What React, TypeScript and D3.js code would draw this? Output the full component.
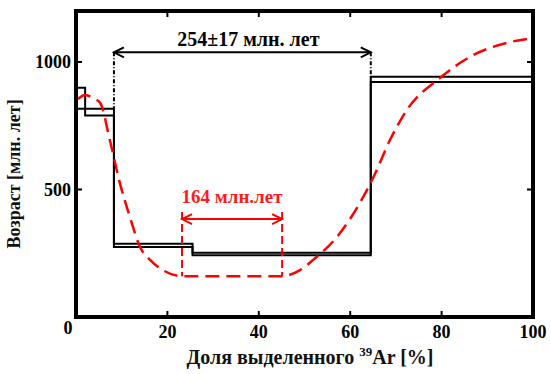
import * as d3 from 'd3';

// Ar-Ar step spectrum: fraction edges (%), upper / lower age bound per step (Ma)
const stepEdges = [0, 2, 8.3, 25.5, 64.5, 100];
const ageUpper = [899, 817, 287, 252, 942];
const ageLower = [817, 790, 275, 242, 922];

// model curve (red dashed)
const modelFraction = [0.4, 2.0, 3.7, 5.3, 7.4, 9.6, 11.8, 14.0, 16.2, 19.0, 23.2, 45.1, 49.0, 51.9, 57.1, 62.1, 65.0, 68.7, 72.4, 79.6, 86.9, 94.3, 100];
const modelAge = [855, 871, 859, 839, 694, 525, 392, 275, 224, 184, 160, 160, 184, 224, 314, 447, 545, 694, 812, 937, 1027, 1075, 1094];

const xTicks = [20, 40, 60, 80, 100];
const yTicks = [500, 1000];

// plateau annotation
const plateau = { from: 8.3, to: 64.5, arrowAge: 1038, label: '254±17 млн. лет' };
const minimum = { from: 23.2, to: 45.1, topAge: 412, arrowAge: 384, label: '164 млн.лет' };

const W = 551;
const H = 374;
const font = '"Liberation Serif", "Times New Roman", serif';

export default function App() {
  const x = d3.scaleLinear().domain([0, 100]).range([76, 533]);
  const y = d3.scaleLinear().domain([0, 1200]).range([317, 11]);

  const stepLine = d3.line<[number, number]>()
    .x(d => x(d[0]))
    .y(d => y(d[1]))
    .curve(d3.curveStepAfter);

  const stepPts = (ages: number[]): [number, number][] => {
    const pts: [number, number][] = ages.map((a, i) => [stepEdges[i], a]);
    pts.push([stepEdges[stepEdges.length - 1], ages[ages.length - 1]]);
    return pts;
  };

  const modelLine = d3.line<number>()
    .x((_, i) => x(modelFraction[i]))
    .y(d => y(d))
    .curve(d3.curveMonotoneX);

  const chevron = (tipX: number, tipY: number, dir: number) =>
    `M ${tipX + dir * 10} ${tipY - 5} L ${tipX} ${tipY} L ${tipX + dir * 10} ${tipY + 5}`;

  const stepTop = (f: number) => {
    const i = stepEdges.findIndex(e => Math.abs(e - f) < 1e-6);
    return Math.max(ageUpper[i - 1] ?? 0, ageUpper[i] ?? 0);
  };

  return (
    <svg width={W} height={H} style={{ position: 'absolute', left: 0, top: 0, background: '#fff' }}>
      {/* steps */}
      <path d={stepLine(stepPts(ageUpper)) ?? ''} fill="none" stroke="#000" strokeWidth={2} />
      <path d={stepLine(stepPts(ageLower)) ?? ''} fill="none" stroke="#000" strokeWidth={2} />

      {/* plateau annotation */}
      {[plateau.from, plateau.to].map(f => (
        <line key={f} x1={x(f)} x2={x(f)} y1={y(plateau.arrowAge)} y2={y(stepTop(f))}
          stroke="#000" strokeWidth={2} strokeDasharray="4,2,1,2" />
      ))}
      <line x1={x(plateau.from)} x2={x(plateau.to)} y1={y(plateau.arrowAge)} y2={y(plateau.arrowAge)} stroke="#000" strokeWidth={2} />
      <path d={chevron(x(plateau.from), y(plateau.arrowAge), 1)} fill="none" stroke="#000" strokeWidth={2} />
      <path d={chevron(x(plateau.to), y(plateau.arrowAge), -1)} fill="none" stroke="#000" strokeWidth={2} />
      <text x={(x(plateau.from) + x(plateau.to)) / 2 + 6} y={y(plateau.arrowAge) - 6} textAnchor="middle"
        fontFamily={font} fontWeight="bold" fontSize={20} fill="#000">{plateau.label}</text>

      {/* model curve */}
      <path d={modelLine(modelAge) ?? ''} fill="none" stroke="#ff0000" strokeWidth={2.5} strokeDasharray="14,7" />

      {/* minimum annotation */}
      {[minimum.from, minimum.to].map(f => (
        <line key={f} x1={x(f)} x2={x(f)} y1={y(minimum.topAge)} y2={y(160)}
          stroke="#ff0000" strokeWidth={2} strokeDasharray="8,4" />
      ))}
      <line x1={x(minimum.from)} x2={x(minimum.to)} y1={y(minimum.arrowAge)} y2={y(minimum.arrowAge)} stroke="#ff0000" strokeWidth={2} />
      <path d={chevron(x(minimum.from), y(minimum.arrowAge), 1)} fill="none" stroke="#ff0000" strokeWidth={2} />
      <path d={chevron(x(minimum.to), y(minimum.arrowAge), -1)} fill="none" stroke="#ff0000" strokeWidth={2} />
      <text x={(x(minimum.from) + x(minimum.to)) / 2} y={y(minimum.topAge) - 9} textAnchor="middle"
        fontFamily={font} fontWeight="bold" fontSize={19} fill="#ff1a1a">{minimum.label}</text>

      {/* frame */}
      <rect x={x(0)} y={y(1200)} width={x(100) - x(0)} height={y(0) - y(1200)} fill="none" stroke="#000" strokeWidth={4} />

      {/* ticks */}
      {xTicks.filter(t => t < 100).map(t => (
        <g key={t}>
          <line x1={x(t)} x2={x(t)} y1={y(0)} y2={y(0) - 6} stroke="#000" strokeWidth={2} />
          <line x1={x(t)} x2={x(t)} y1={y(1200)} y2={y(1200) + 6} stroke="#000" strokeWidth={2} />
        </g>
      ))}
      {yTicks.map(t => (
        <g key={t}>
          <line x1={x(0)} x2={x(0) + 6} y1={y(t)} y2={y(t)} stroke="#000" strokeWidth={2} />
          <line x1={x(100)} x2={x(100) - 6} y1={y(t)} y2={y(t)} stroke="#000" strokeWidth={2} />
        </g>
      ))}

      {/* tick labels */}
      {xTicks.map(t => (
        <text key={t} x={x(t)} y={y(0) + 21} textAnchor="middle" fontFamily={font} fontWeight="bold" fontSize={18}>{t}</text>
      ))}
      <text x={x(0) - 8} y={y(0) + 17} textAnchor="middle" fontFamily={font} fontWeight="bold" fontSize={18}>0</text>
      {yTicks.map(t => (
        <text key={t} x={x(0) - 5} y={y(t) + 6} textAnchor="end" fontFamily={font} fontWeight="bold" fontSize={18}>{t}</text>
      ))}

      {/* axis titles */}
      <text x={310} y={364} textAnchor="middle" fontFamily={font} fontWeight="bold" fontSize={20} fill="#111">
        Доля выделенного <tspan dy={-8} fontSize={13}>39</tspan><tspan dy={8}>Ar [%]</tspan>
      </text>
      <text transform="translate(20,174) rotate(-90)" textAnchor="middle" fontFamily={font} fontWeight="bold" fontSize={18} fill="#111">
        Возраст [млн. лет]
      </text>
    </svg>
  );
}
